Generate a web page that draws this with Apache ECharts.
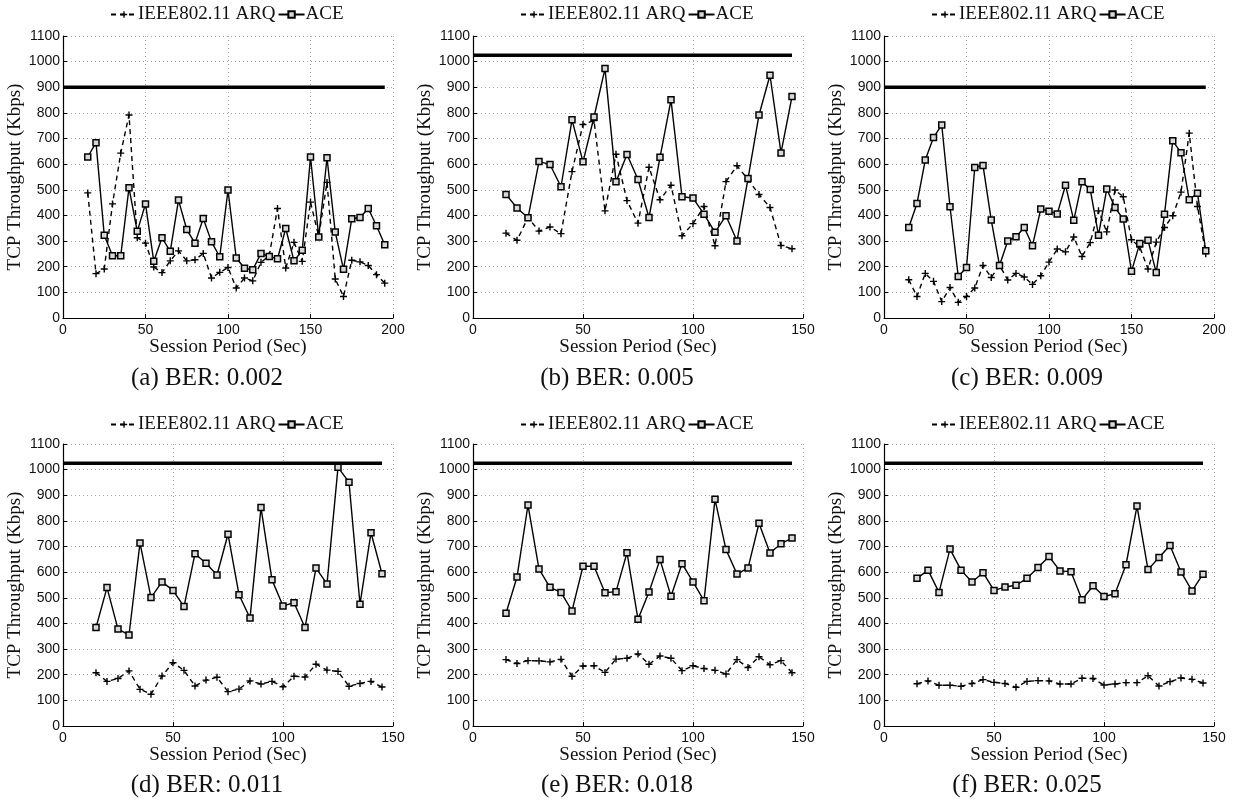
<!DOCTYPE html>
<html>
<head>
<meta charset="utf-8">
<script src="https://cdn.jsdelivr.net/npm/echarts@6/dist/echarts.min.js"></script>
<style>
html,body{margin:0;padding:0;background:#fff;}
#chart{width:1234px;height:802px;}
</style>
</head>
<body>
<div id="chart"></div>
<script>
// ---- data ----
const xLong = [15,20,25,30,35,40,45,50,55,60,65,70,75,80,85,90,95,100,105,110,115,120,125,130,135,140,145,150,155,160,165,170,175,180,185,190,195];
const xShort = [15,20,25,30,35,40,45,50,55,60,65,70,75,80,85,90,95,100,105,110,115,120,125,130,135,140,145];

const aceA = [628,684,323,243,243,508,338,445,221,313,260,460,345,292,388,297,239,499,234,194,188,252,240,231,349,223,264,628,316,625,335,190,387,392,427,360,286];
const arqA = [488,173,191,445,643,792,313,292,199,177,223,262,223,227,252,156,178,197,117,156,145,217,243,427,195,295,221,452,318,529,152,84,225,219,205,169,136];

const aceB = [482,429,391,610,599,512,773,609,784,973,531,638,540,392,627,851,473,468,405,334,399,300,544,792,947,644,864];
const arqB = [331,303,392,339,355,329,571,755,770,418,639,458,370,588,461,518,321,368,435,282,532,594,540,482,431,283,270];

const aceC = [353,447,616,704,753,434,162,197,587,595,382,205,300,317,353,282,425,416,406,518,381,531,501,323,503,431,386,182,291,303,177,405,691,645,461,487,262];
const arqC = [149,84,174,143,64,119,61,84,117,205,158,206,148,174,160,131,165,218,269,258,316,240,294,418,336,499,473,305,277,191,296,353,399,491,721,435,251];

const aceD = [384,540,378,355,714,501,562,529,466,672,635,589,748,512,421,852,570,468,481,384,616,554,1009,951,475,754,594];
const arqD = [208,174,185,215,143,124,195,247,217,156,179,190,134,144,176,164,174,153,194,191,241,218,213,155,166,174,152];

const aceE = [440,581,862,612,541,521,449,623,623,520,524,676,416,523,649,506,633,562,489,884,688,593,616,791,675,711,733];
const arqE = [259,244,255,254,250,260,194,234,235,209,261,264,281,241,273,264,216,235,224,217,203,259,228,270,239,255,208];

const aceF = [576,608,521,690,608,562,598,529,542,549,576,618,661,605,602,492,547,505,516,629,858,610,657,704,601,527,592];
const arqF = [165,176,159,159,155,166,181,170,166,151,174,177,176,164,164,186,185,160,164,169,169,196,156,173,187,182,168];

const capacity = [900, 1025, 900, 1025, 1025, 1025];
const xMaxes = [200, 150, 200, 150, 150, 150];
const captions = ['(a) BER: 0.002','(b) BER: 0.005','(c) BER: 0.009','(d) BER: 0.011','(e) BER: 0.018','(f) BER: 0.025'];
const seriesNames = ['IEEE802.11 ARQ','ACE'];
const xTitle = 'Session Period (Sec)';
const yTitle = 'TCP Throughput (Kbps)';

const panels = [
  {x: xLong, ace: aceA, arq: arqA},
  {x: xShort, ace: aceB, arq: arqB},
  {x: xLong, ace: aceC, arq: arqC},
  {x: xShort, ace: aceD, arq: arqD},
  {x: xShort, ace: aceE, arq: arqE},
  {x: xShort, ace: aceF, arq: arqF}
];

// ---- layout ----
const lefts = [63, 473, 884];
const tops = [36, 444];
const W = 330, H = 282;
const serif = 'Liberation Serif';
const sans = 'Liberation Sans';
const plusPath = 'path://M4,0H6V4H10V6H6V10H4V6H0V4H4Z';
const gridLine = {show: true, lineStyle: {type: [1, 3], color: '#a8a8a8', width: 1}};

const grids = [], xAxes = [], yAxes = [], series = [], legends = [], titles = [];
panels.forEach((p, i) => {
  const col = i % 3, row = Math.floor(i / 3);
  grids.push({left: lefts[col], top: tops[row], width: W, height: H, containLabel: false});
  xAxes.push({
    type: 'value', gridIndex: i, min: 0, max: xMaxes[i], interval: 50,
    name: xTitle, nameLocation: 'middle', nameGap: 20,
    nameTextStyle: {fontFamily: serif, fontSize: 19, color: '#111'},
    axisLine: {lineStyle: {color: '#000', width: 1.2}},
    axisTick: {inside: true, length: 4, lineStyle: {color: '#000'}},
    axisLabel: {fontFamily: sans, fontSize: 14, color: '#111', margin: 5, formatter: v => String(v)},
    splitLine: gridLine
  });
  yAxes.push({
    type: 'value', gridIndex: i, min: 0, max: 1100, interval: 100,
    name: yTitle, nameLocation: 'middle', nameGap: 35,
    nameTextStyle: {fontFamily: serif, fontSize: 19, color: '#111'},
    axisLine: {show: true, lineStyle: {color: '#000', width: 1.2}},
    axisTick: {show: true, inside: true, length: 4, lineStyle: {color: '#000'}},
    axisLabel: {fontFamily: sans, fontSize: 14, color: '#111', margin: 3, formatter: v => String(v)},
    splitLine: gridLine
  });
  const xEnd = p.x[p.x.length - 1];
  series.push({
    type: 'line', name: 'capacity', xAxisIndex: i, yAxisIndex: i, silent: true,
    showSymbol: false, symbol: 'none',
    data: [[0, capacity[i]], [xEnd, capacity[i]]],
    lineStyle: {color: '#000', width: 3.5}, z: 1
  });
  series.push({
    type: 'line', name: seriesNames[0], xAxisIndex: i, yAxisIndex: i,
    data: p.x.map((v, k) => [v, p.arq[k]]),
    symbol: plusPath, symbolSize: 7,
    itemStyle: {color: '#000'},
    lineStyle: {color: '#000', width: 1.4, type: [5, 4]}, z: 3
  });
  series.push({
    type: 'line', name: seriesNames[1], xAxisIndex: i, yAxisIndex: i,
    data: p.x.map((v, k) => [v, p.ace[k]]),
    symbol: 'rect', symbolSize: 6,
    itemStyle: {color: '#d8d8d8', borderColor: '#000', borderWidth: 1.5},
    lineStyle: {color: '#000', width: 1.4}, z: 4
  });
  legends.push({
    data: seriesNames, left: lefts[col] + W / 2 - 118, top: row === 0 ? 5 : 415,
    padding: 0, itemGap: 2, itemWidth: 26, itemHeight: 8,
    textStyle: {fontFamily: serif, fontSize: 19, color: '#111', padding: [0, 0, 0, -4]},
    selectedMode: false
  });
  titles.push({
    text: captions[i], left: 207 + col * 410, top: row === 0 ? 366 : 773, textAlign: 'center', padding: 0,
    textStyle: {fontFamily: serif, fontSize: 25, fontWeight: 'normal', color: '#111'}
  });
});

const chart = echarts.init(document.getElementById('chart'), null, {renderer: 'canvas'});
chart.setOption({
  animation: false,
  backgroundColor: '#fff',
  title: titles,
  legend: legends,
  grid: grids,
  xAxis: xAxes,
  yAxis: yAxes,
  series: series
});
</script>
</body>
</html>
